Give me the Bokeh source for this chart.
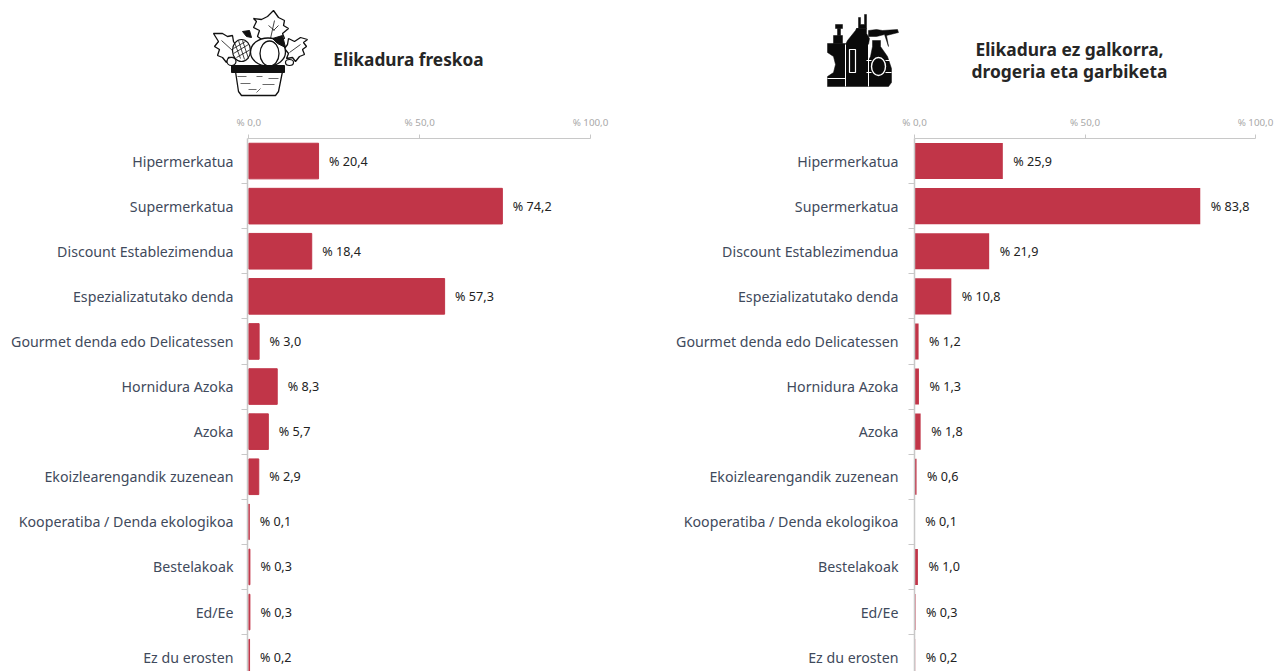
from bokeh.plotting import figure
from bokeh.layouts import column, row
from bokeh.models import Range1d, FixedTicker, ColumnDataSource
from bokeh.core.properties import value
from bokeh.embed import file_html
from bokeh.resources import INLINE

categories = ["Hipermerkatua", "Supermerkatua", "Discount Establezimendua", "Espezializatutako denda",
              "Gourmet denda edo Delicatessen", "Hornidura Azoka", "Azoka", "Ekoizlearengandik zuzenean",
              "Kooperatiba / Denda ekologikoa", "Bestelakoak", "Ed/Ee", "Ez du erosten"]
fresh_values = [20.4, 74.2, 18.4, 57.3, 3.0, 8.3, 5.7, 2.9, 0.1, 0.3, 0.3, 0.2]
nonfood_values = [25.9, 83.8, 21.9, 10.8, 1.2, 1.3, 1.8, 0.6, 0.1, 1.0, 0.3, 0.2]
x_ticks = [0, 50, 100]
title_left = ["Elikadura freskoa"]
title_right = ["Elikadura ez galkorra,", "drogeria eta garbiketa"]

FONT = "Noto Sans"
BAR = "#c13548"
GRID = "#c8c8c8"
FRAME_H = 533
STEP = 45.1


def fmt(v):
    return "% " + f"{v:.1f}".replace(".", ",")


def panel(vals, width, left, frame_w, right, line_w, x_start, standoff, bar_h):
    idx = list(range(len(categories)))
    y_end = -0.5 + FRAME_H / STEP
    p = figure(width=width, height=30 + FRAME_H, frame_width=frame_w, frame_height=FRAME_H,
               x_range=Range1d(x_start, 100), y_range=Range1d(y_end, -0.5),
               x_axis_location="above", toolbar_location=None, output_backend="svg",
               min_border_left=left, min_border_right=right, min_border_top=30, min_border_bottom=0)
    p.outline_line_color = None
    p.grid.visible = False
    src = ColumnDataSource(dict(y=idx, v=vals, t=[fmt(v) for v in vals]))
    p.hbar(y="y", left=0, right="v", height=bar_h, source=src, fill_color=BAR,
           line_color=BAR, line_width=line_w)
    p.text(x="v", y="y", text="t", source=src, x_offset=10.5, text_baseline="middle",
           text_align="left", text_font=value(FONT), text_font_size="12.6px", text_color="#222222")
    xa = p.xaxis[0]
    xa.ticker = FixedTicker(ticks=x_ticks)
    xa.major_label_overrides = {t: fmt(t) for t in x_ticks}
    xa.major_label_text_font = FONT
    xa.major_label_text_font_size = "9.8px"
    xa.major_label_text_color = "#a8a8a8"
    xa.major_label_standoff = 6
    xa.axis_line_color = GRID
    xa.major_tick_line_color = GRID
    xa.major_tick_out = 4
    xa.major_tick_in = 0
    xa.minor_tick_line_color = None
    ya = p.yaxis[0]
    ya.ticker = FixedTicker(ticks=idx, minor_ticks=[i + 0.5 for i in idx])
    ya.major_label_overrides = {i: c for i, c in zip(idx, categories)}
    ya.major_label_text_font = FONT
    ya.major_label_text_font_size = "14.2px"
    ya.major_label_text_color = "#3f4a5c"
    ya.major_label_standoff = standoff
    ya.major_tick_line_color = None
    ya.major_tick_out = 0
    ya.minor_tick_out = 6
    ya.minor_tick_in = 0
    ya.minor_tick_line_color = GRID
    ya.axis_line_color = GRID
    ya.axis_line_width = 1.5
    ya.level = "overlay"
    return p


header = figure(width=1285, height=108, x_range=Range1d(0, 1285), y_range=Range1d(108, 0),
                toolbar_location=None, output_backend="svg", min_border=0)
header.axis.visible = False
header.grid.visible = False
header.outline_line_color = None

# titles
header.text(x=[408], y=[58.5], text=title_left, text_align="center", text_baseline="middle",
            text_font=value(FONT), text_font_style="bold", text_font_size="17.3px", text_color="#262626")
header.text(x=[1069, 1069], y=[48.5, 70.5], text=title_right, text_align="center", text_baseline="middle",
            text_font=value(FONT), text_font_style="bold", text_font_size="17.4px", text_color="#262626")

# basket icon (outline drawing)
K = "#111111"
leaves = [
    [(273, 10), (278, 17), (284, 20), (283, 25), (288, 28), (282, 33), (284, 38), (274, 41), (264, 41), (257, 36), (259, 30), (253, 27), (256, 21), (253, 18), (261, 19), (267, 16)],
    [(213, 33), (222, 33), (227, 36), (232, 35), (233, 41), (236, 46), (232, 50), (235, 57), (228, 57), (226, 62), (222, 57), (217, 55), (219, 49), (214, 46), (218, 41)],
    [(307, 39), (300, 37), (294, 41), (288, 38), (287, 44), (284, 48), (288, 53), (286, 58), (292, 57), (295, 61), (299, 56), (304, 54), (302, 49), (306, 46), (303, 42)],
]
lx = [[q[0] for q in l] for l in leaves]
ly = [[q[1] for q in l] for l in leaves]
header.patches(lx, ly, fill_color="white", line_color=K, line_width=1.3)
header.multi_line([[274, 270], [268, 274], [278, 273], [221, 232], [300, 289]],
                  [[20, 38], [25, 30], [25, 30], [40, 50], [44, 52]], line_color=K, line_width=0.8)
# pineapple-like fruit with hatch
header.ellipse(x=[241], y=[50], width=[18], height=[22], fill_color="white", line_color=K, line_width=1.2)
header.multi_line([[233, 245], [233, 248], [236, 250], [234, 240], [238, 244], [242, 248]],
                  [[48, 41], [53, 44], [57, 49], [42, 58], [40, 59], [40, 58]],
                  line_color=K, line_width=0.8)
# squash
header.ellipse(x=[267.5], y=[51.5], width=[35], height=[28], fill_color="white", line_color=K, line_width=1.3)
header.ellipse(x=[269], y=[53], width=[19], height=[25], fill_color="white", line_color=K, line_width=1.3)
header.ellipse(x=[231, 289], y=[61, 62], width=[9, 8], height=[8, 6], fill_color="white", line_color=K, line_width=1.2)
header.patches([[242, 249, 251, 246], [272, 282, 285, 277]], [[31, 30, 37, 36], [38, 35, 47, 43]],
               fill_color=K, line_color=K)
# basket
header.patch([235, 282, 278, 275, 241, 238], [71, 71, 91, 95, 95, 91], fill_color="white", line_color=K, line_width=1.3)
header.patch([231, 284, 284, 231], [65, 65, 72, 72], fill_color=K, line_color=K)
header.multi_line([[237, 246], [256, 262], [268, 278], [240, 250], [262, 274], [248, 256], [256, 260]],
                  [[76, 76], [76, 76], [78, 78], [83, 83], [84, 84], [89, 89], [92, 88]],
                  line_color="#444444", line_width=0.8)

# bottles icon (silhouette)
header.patches([
    [827, 845, 845, 827, 827, 833, 835, 833, 827],
    [845, 847, 855, 856, 866, 866, 869, 868, 868, 845],
    [856, 858, 858, 860, 860, 864, 864, 866, 866, 856],
    [870, 872, 872, 880, 880, 887, 891, 891, 888, 868, 864, 864],
    [868, 876, 882, 897, 898, 886, 888, 884, 876, 868],
    [833, 842, 842, 833],
    [837, 840, 840, 837],
    [835, 842, 842, 835],
], [
    [43, 43, 86, 86, 76, 72, 64, 56, 52],
    [44, 40, 30, 28, 28, 33, 38, 44, 86, 86],
    [28, 28, 17, 17, 24, 24, 14, 14, 28, 28],
    [56, 46, 40, 40, 46, 56, 68, 82, 86, 86, 82, 68],
    [30, 29, 30, 29, 32, 35, 46, 34, 36, 36],
    [35, 35, 43, 43],
    [28, 28, 35, 35],
    [24, 24, 28, 28],
], fill_color="#0a0a0a", line_color="#0a0a0a", line_width=0.5)
header.patch([849, 855, 855, 849], [49, 49, 72, 72], fill_color=None, line_color="white", line_width=1.2)
header.ellipse(x=[878], y=[66], width=[14], height=[18], fill_color=None, line_color="white", line_width=1.4)
header.multi_line([[866, 871], [885, 891], [866, 871], [885, 891], [845, 845], [868, 868], [827, 845]],
                  [[60, 60], [60, 60], [72, 72], [72, 72], [44, 86], [44, 86], [78, 78]],
                  line_color="white", line_width=1)

left_p = panel(fresh_values, 648, 247, 343, 58, 1, -0.4, 8, 0.79)
right_p = panel(nonfood_values, 637, 266, 341, 30, 0, 0, 10, 0.8)

layout = column(header, row(left_p, right_p, spacing=0), spacing=0)
open("out.html", "w").write(file_html(layout, INLINE))
